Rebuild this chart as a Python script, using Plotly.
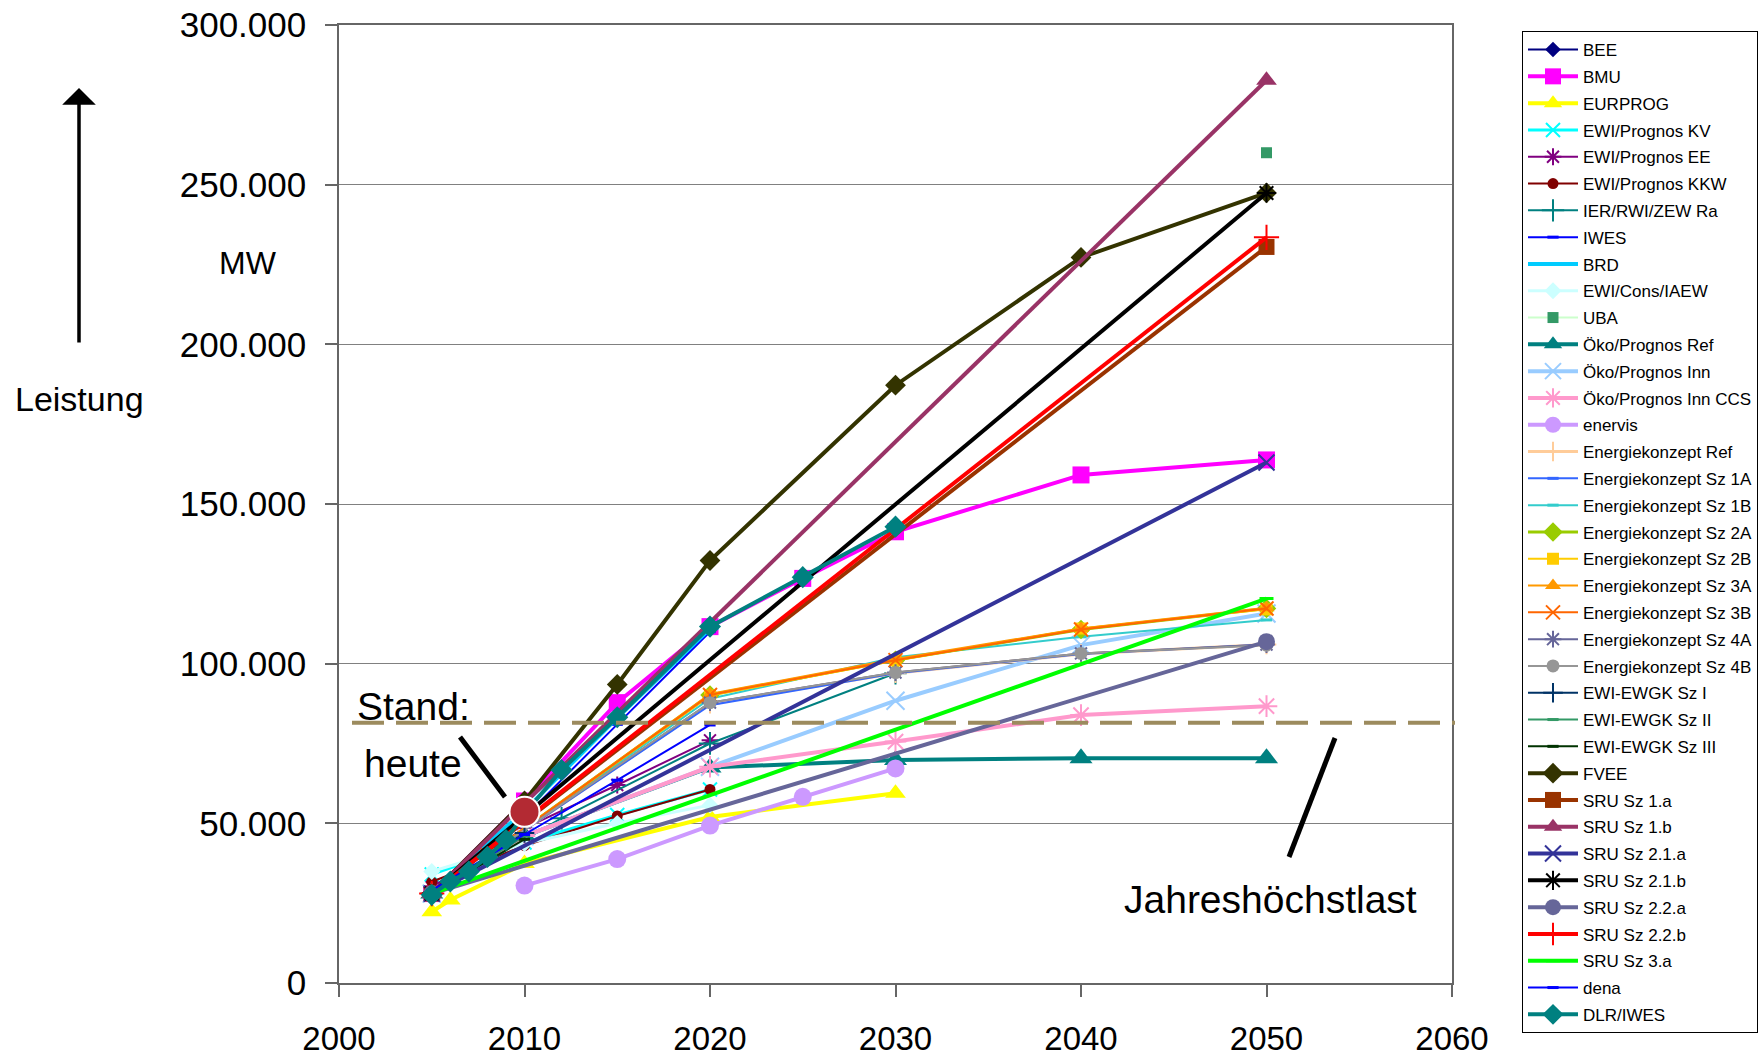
import plotly.graph_objects as go

# ---------------- Installed capacity scenarios (MW) ----------------
YEARS_BEE = [2005, 2010, 2020]
MW_BEE = [28000, 56000, 111600]

YEARS_BMU = [2005, 2010, 2015, 2020, 2025, 2030, 2040, 2050]
MW_BMU = [28000, 57000, 87800, 111600, 126700, 141300, 159100, 163800]

YEARS_EURPROG = [2005, 2006, 2010, 2020, 2030]
MW_EURPROG = [22300, 26000, 37400, 52000, 59400]

YEARS_EWI_KV = [2005, 2010, 2015, 2020]
MW_EWI_KV = [34000, 44000, 52600, 60600]

YEARS_EWI_EE = [2005, 2010, 2015, 2020]
MW_EWI_EE = [30000, 48500, 62000, 76000]

YEARS_EWI_KKW = [2005, 2010, 2015, 2020]
MW_EWI_KKW = [31700, 43000, 52300, 60600]

YEARS_IER = [2005, 2012, 2020, 2030]
MW_IER = [28000, 51600, 75000, 97000]

YEARS_IWES = [2005, 2010, 2015, 2020]
MW_IWES = [28000, 52000, 81000, 110000]

YEARS_BRD = [2005, 2010, 2015, 2020]
MW_BRD = [28000, 54000, 83000, 111000]

YEARS_EWI_CONS = [2005, 2010, 2015, 2020]
MW_EWI_CONS = [34900, 43700, 50000, 55700]

YEARS_UBA = [2050]
MW_UBA = [260000]

YEARS_OEKO_REF = [2005, 2010, 2020, 2030, 2040, 2050]
MW_OEKO_REF = [28000, 46000, 67500, 69800, 70400, 70400]

YEARS_OEKO_INN = [2005, 2010, 2020, 2030, 2040, 2050]
MW_OEKO_INN = [28000, 46000, 67700, 88400, 105800, 115700]

YEARS_OEKO_CCS = [2005, 2010, 2020, 2030, 2040, 2050]
MW_OEKO_CCS = [28000, 46000, 67700, 75600, 83900, 86700]

YEARS_ENERVIS = [2010, 2015, 2020, 2025, 2030]
MW_ENERVIS = [30500, 38800, 49300, 58300, 67200]

YEARS_EK = [2008, 2020, 2030, 2040, 2050]
MW_EK_REF = [40000, 87500, 97000, 103000, 106000]
MW_EK_1A = [40000, 87000, 97000, 103000, 106000]
MW_EK_1B = [40000, 89000, 102000, 108400, 113700]
MW_EK_2A = [40000, 90200, 101100, 110700, 117300]
MW_EK_2B = [40000, 90000, 101000, 111000, 117000]
MW_EK_3A = [40000, 90500, 101500, 111000, 117500]
MW_EK_3B = [40000, 90200, 101100, 110700, 117300]
MW_EK_4A = [40000, 87800, 97200, 103200, 106000]
MW_EK_4B = [40000, 87800, 97200, 103200, 105800]

YEARS_EWGK = [2005, 2010]
MW_EWGK_I = [28000, 47000]
MW_EWGK_II = [28000, 46000]
MW_EWGK_III = [28000, 45000]

YEARS_FVEE = [2005, 2010, 2015, 2020, 2030, 2040, 2050]
MW_FVEE = [28000, 57000, 93500, 132300, 187200, 227200, 247400]

YEARS_SRU = [2005, 2050]
MW_SRU_1A = [28000, 230500]
MW_SRU_1B = [28000, 282700]
MW_SRU_21A = [28000, 163000]
MW_SRU_21B = [28000, 247400]
MW_SRU_22A = [28000, 106900]
MW_SRU_22B = [28000, 233500]
MW_SRU_3A = [28000, 120400]

YEARS_DENA = [2005, 2010, 2015, 2020]
MW_DENA = [29000, 46500, 63500, 80800]

YEARS_DLR = [2005, 2006, 2007, 2008, 2009, 2010, 2012, 2015, 2020, 2025, 2030]
MW_DLR = [27600, 31800, 34900, 39500, 44800, 53000, 66700, 83200, 111600, 127100, 142900]

# current status marker and annual peak load
STAND_YEAR = [2010]
STAND_MW = [53600]
PEAK_LOAD_MW = 81500

# ---------------- series: (name, years, values, colour, line width, symbol, marker size) ----------------
SERIES = [
    ("BEE", YEARS_BEE, MW_BEE, "#000080", 2, "diamond", 12),
    ("BMU", YEARS_BMU, MW_BMU, "#FF00FF", 4, "square", 17),
    ("EURPROG", YEARS_EURPROG, MW_EURPROG, "#FFFF00", 4, "triangle-up", 18),
    ("EWI/Prognos KV", YEARS_EWI_KV, MW_EWI_KV, "#00FFFF", 3, "x-thin", 14),
    ("EWI/Prognos EE", YEARS_EWI_EE, MW_EWI_EE, "#800080", 2, "asterisk", 14),
    ("EWI/Prognos KKW", YEARS_EWI_KKW, MW_EWI_KKW, "#800000", 2, "circle", 11),
    ("IER/RWI/ZEW Ra", YEARS_IER, MW_IER, "#008080", 2, "cross-thin", 16),
    ("IWES", YEARS_IWES, MW_IWES, "#0000FF", 2, "line-ew", 8),
    ("BRD", YEARS_BRD, MW_BRD, "#00CCFF", 4, "line-ew", 12),
    ("EWI/Cons/IAEW", YEARS_EWI_CONS, MW_EWI_CONS, "#CCFFFF", 3, "diamond", 13),
    ("UBA", YEARS_UBA, MW_UBA, "#CCFFCC", 2, "square", 11),
    ("Öko/Prognos Ref", YEARS_OEKO_REF, MW_OEKO_REF, "#008080", 4, "triangle-up", 20),
    ("Öko/Prognos Inn", YEARS_OEKO_INN, MW_OEKO_INN, "#99CCFF", 4, "x-thin", 18),
    ("Öko/Prognos Inn CCS", YEARS_OEKO_CCS, MW_OEKO_CCS, "#FF99CC", 4, "asterisk", 18),
    ("enervis", YEARS_ENERVIS, MW_ENERVIS, "#CC99FF", 4, "circle", 18),
    ("Energiekonzept Ref", YEARS_EK, MW_EK_REF, "#FFCC99", 3, "cross-thin", 14),
    ("Energiekonzept Sz 1A", YEARS_EK, MW_EK_1A, "#3366FF", 2, "line-ew", 8),
    ("Energiekonzept Sz 1B", YEARS_EK, MW_EK_1B, "#33CCCC", 2, "line-ew", 8),
    ("Energiekonzept Sz 2A", YEARS_EK, MW_EK_2A, "#99CC00", 3, "diamond", 15),
    ("Energiekonzept Sz 2B", YEARS_EK, MW_EK_2B, "#FFCC00", 2, "square", 12),
    ("Energiekonzept Sz 3A", YEARS_EK, MW_EK_3A, "#FF9900", 2, "triangle-up", 14),
    ("Energiekonzept Sz 3B", YEARS_EK, MW_EK_3B, "#FF6600", 2, "x-thin", 14),
    ("Energiekonzept Sz 4A", YEARS_EK, MW_EK_4A, "#666699", 2, "asterisk", 14),
    ("Energiekonzept Sz 4B", YEARS_EK, MW_EK_4B, "#969696", 2, "circle", 13),
    ("EWI-EWGK Sz I", YEARS_EWGK, MW_EWGK_I, "#003366", 2, "cross-thin", 14),
    ("EWI-EWGK Sz II", YEARS_EWGK, MW_EWGK_II, "#339966", 2, "line-ew", 8),
    ("EWI-EWGK Sz III", YEARS_EWGK, MW_EWGK_III, "#003300", 2, "line-ew", 8),
    ("FVEE", YEARS_FVEE, MW_FVEE, "#333300", 4, "diamond", 16),
    ("SRU Sz 1.a", YEARS_SRU, MW_SRU_1A, "#993300", 4, "square", 16),
    ("SRU Sz 1.b", YEARS_SRU, MW_SRU_1B, "#993366", 4, "triangle-up", 18),
    ("SRU Sz 2.1.a", YEARS_SRU, MW_SRU_21A, "#333399", 4, "x-thin", 16),
    ("SRU Sz 2.1.b", YEARS_SRU, MW_SRU_21B, "#000000", 4, "asterisk", 16),
    ("SRU Sz 2.2.a", YEARS_SRU, MW_SRU_22A, "#666699", 4, "circle", 17),
    ("SRU Sz 2.2.b", YEARS_SRU, MW_SRU_22B, "#FF0000", 4, "cross-thin", 18),
    ("SRU Sz 3.a", YEARS_SRU, MW_SRU_3A, "#00FF00", 4, "line-ew", 10),
    ("dena", YEARS_DENA, MW_DENA, "#0000FF", 2, "line-ew", 8),
    ("DLR/IWES", YEARS_DLR, MW_DLR, "#008080", 4, "diamond", 17),
]
MARKER_COLOUR_OVERRIDE = {"UBA": "#339966"}
OPEN_SYMBOLS = {"x-thin", "asterisk", "cross-thin", "line-ew"}

FONT = "Liberation Sans, Arial, sans-serif"

# plot area in pixels
L, R, T, B = 339, 1452, 25, 983
W, H = 1762, 1056


def px(x):
    return (x - L) / (R - L)


def py(y):
    return (B - y) / (B - T)


fig = go.Figure()

for name, xs, ys, colour, lw, symbol, msize in SERIES:
    mcol = MARKER_COLOUR_OVERRIDE.get(name, colour)
    if symbol in OPEN_SYMBOLS:
        mline = dict(color=mcol, width=3 if symbol == "line-ew" else 2)
    else:
        mline = dict(color=mcol, width=0)
    fig.add_trace(go.Scatter(
        x=xs, y=ys, name=name, legendgroup=name,
        mode="lines+markers",
        line=dict(color=colour, width=lw),
        marker=dict(symbol=symbol, size=msize, color=mcol, line=mline),
    ))

# "Stand: heute" marker
fig.add_trace(go.Scatter(
    x=STAND_YEAR, y=STAND_MW, mode="markers", showlegend=False,
    marker=dict(symbol="circle", size=30, color="#B32A33",
                line=dict(color="white", width=2)),
))

shapes = [
    # annual peak load
    dict(type="line", xref="paper", yref="y", x0=px(352), x1=px(1455),
         y0=PEAK_LOAD_MW, y1=PEAK_LOAD_MW, layer="above",
         line=dict(color="#9C8B5E", width=4, dash="32px,12px")),
    # pointer lines
    dict(type="line", xref="paper", yref="paper", x0=px(460), y0=py(737),
         x1=px(505), y1=py(797), layer="above", line=dict(color="black", width=5)),
    dict(type="line", xref="paper", yref="paper", x0=px(1335), y0=py(738),
         x1=px(1289), y1=py(857), layer="above", line=dict(color="black", width=5)),
]


def label(x, y, text, size):
    return dict(xref="paper", yref="paper", x=px(x), y=py(y), text=text,
                xanchor="center", yanchor="middle", showarrow=False,
                font=dict(family=FONT, size=size, color="black"))


annotations = [
    label(413, 706, "Stand:", 39),
    label(413, 763, "heute", 39),
    label(1270, 899, "Jahreshöchstlast", 39),
    label(248, 263, "MW", 32),
    label(79, 399, "Leistung", 34),
    # vertical arrow
    dict(xref="paper", yref="paper", x=px(79), y=py(88), text="",
         showarrow=True, ax=0, ay=256, arrowhead=1, arrowsize=1.6,
         arrowwidth=3.5, arrowcolor="black"),
]

fig.update_layout(
    width=W, height=H,
    margin=dict(l=L, r=W - R, t=T, b=H - B, autoexpand=False),
    paper_bgcolor="white", plot_bgcolor="white",
    separators=",.",
    font=dict(family=FONT, color="black"),
    showlegend=True,
    legend=dict(
        x=px(1522), y=py(31), xanchor="left", yanchor="top",
        bgcolor="white", bordercolor="black", borderwidth=1,
        font=dict(family=FONT, size=17, color="black"),
        itemwidth=50, tracegroupgap=1.7, traceorder="grouped",
        maxheight=1040,
        itemclick=False, itemdoubleclick=False,
    ),
    shapes=shapes,
    annotations=annotations,
)

fig.update_xaxes(
    range=[2000, 2060], tick0=2000, dtick=10, automargin=False,
    ticks="outside", ticklen=12, tickwidth=1.5, tickcolor="#666666",
    showline=True, linecolor="#666666", linewidth=1.5, mirror=True,
    showgrid=False, zeroline=False,
    tickfont=dict(family=FONT, size=33, color="black"),
    ticklabelstandoff=14,
)
fig.update_yaxes(
    range=[0, 300000], tick0=0, dtick=50000, tickformat=",.0f", automargin=False,
    ticks="outside", ticklen=12, tickwidth=1.5, tickcolor="#666666",
    showline=True, linecolor="#666666", linewidth=1.5, mirror=True,
    showgrid=True, gridcolor="#808080", gridwidth=1.2, zeroline=False,
    tickfont=dict(family=FONT, size=35, color="black"),
    ticklabelstandoff=12,
)

fig.write_html("out.html")
